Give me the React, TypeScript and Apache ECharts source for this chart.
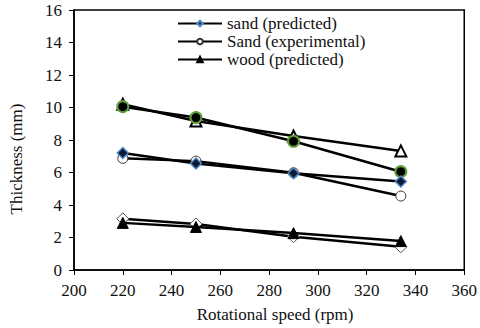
import React, { useEffect, useRef } from "react";
import * as echarts from "echarts";

const speeds = [220, 250, 290, 334];
const sandPredicted = [7.2, 6.55, 5.95, 5.45];
const sandExperimental = [6.87, 6.7, 5.98, 4.55];
const woodPredicted = [2.9, 2.65, 2.27, 1.78];
const woodExperimental = [3.15, 2.83, 2.05, 1.43];
const upperPredicted = [10.2, 9.17, 8.25, 7.33];
const upperExperimental = [10.05, 9.38, 7.92, 6.05];
const legendNames = ["sand (predicted)", "Sand (experimental)", "wood (predicted)"];

const pairs = (ys: number[]) => speeds.map((x, i) => [x, ys[i]]);

export default function App() {
  const ref = useRef<HTMLDivElement>(null);
  useEffect(() => {
    const chart = echarts.init(ref.current!, null, { renderer: "svg" });
    const font = "Liberation Serif";
    const fs = 17;
    const line = { color: "#000", width: 2.5 };
    chart.setOption({
      animation: false,
      textStyle: { fontFamily: font },
      grid: { left: 71, right: 14, top: 10, bottom: 58, show: true, borderColor: "#000", borderWidth: 1.5 },
      legend: {
        data: legendNames,
        orient: "vertical",
        left: 172,
        top: 10,
        itemWidth: 44,
        itemHeight: 7,
        itemGap: 1,
        textStyle: { fontFamily: font, fontSize: fs, color: "#111" },
      },
      xAxis: {
        type: "value",
        min: 200,
        max: 360,
        interval: 20,
        name: "Rotational speed (rpm)",
        nameLocation: "middle",
        nameGap: 36,
        nameTextStyle: { fontFamily: font, fontSize: fs, color: "#111", padding: [0, 0, 0, 12] },
        axisLine: { lineStyle: { color: "#000", width: 1.5 } },
        axisTick: { show: true, length: 5, lineStyle: { color: "#000" } },
        axisLabel: { fontFamily: font, fontSize: fs, color: "#111", margin: 12 },
        splitLine: { show: false },
      },
      yAxis: {
        type: "value",
        min: 0,
        max: 16,
        interval: 2,
        name: "Thickness (mm)",
        nameLocation: "middle",
        nameGap: 49,
        nameTextStyle: { fontFamily: font, fontSize: fs, color: "#111", padding: [0, 38, 0, 0] },
        axisLine: { show: true, lineStyle: { color: "#000", width: 1.5 } },
        axisTick: { show: true, length: 5, lineStyle: { color: "#000" } },
        axisLabel: { fontFamily: font, fontSize: fs, color: "#111", margin: 12 },
        splitLine: { show: false },
      },
      series: [
        {
          name: "wood (predicted, upper)",
          type: "line",
          data: pairs(upperPredicted),
          symbol: "triangle",
          symbolSize: 11,
          lineStyle: line,
          itemStyle: { color: "#fff", borderColor: "#000", borderWidth: 2 },
          z: 2,
        },
        {
          name: "sand (experimental, upper)",
          type: "line",
          data: pairs(upperExperimental),
          symbol: "circle",
          symbolSize: 11,
          lineStyle: line,
          itemStyle: { color: "#000", borderColor: "#5f9e3a", borderWidth: 2 },
          z: 3,
        },
        {
          name: "Sand (experimental)",
          type: "line",
          data: pairs(sandExperimental),
          symbol: "circle",
          symbolSize: 10,
          lineStyle: line,
          itemStyle: { color: "#fff", borderColor: "#333", borderWidth: 1 },
          z: 2,
        },
        {
          name: "sand (predicted)",
          type: "line",
          data: pairs(sandPredicted),
          symbol: "diamond",
          symbolSize: 11,
          lineStyle: line,
          itemStyle: { color: "#0d1a33", borderColor: "#4f86c6", borderWidth: 1.5 },
          z: 3,
        },
        {
          name: "wood (experimental)",
          type: "line",
          data: pairs(woodExperimental),
          symbol: "diamond",
          symbolSize: 12,
          lineStyle: line,
          itemStyle: { color: "#fff", borderColor: "#555", borderWidth: 1 },
          z: 2,
        },
        {
          name: "wood (predicted)",
          type: "line",
          data: pairs(woodPredicted),
          symbol: "triangle",
          symbolSize: 11,
          lineStyle: line,
          itemStyle: { color: "#000", borderColor: "#000", borderWidth: 1 },
          z: 3,
        },
      ],
    });
    return () => chart.dispose();
  }, []);
  return <div ref={ref} style={{ width: 480, height: 328, position: "absolute", left: 0, top: 0 }} />;
}
